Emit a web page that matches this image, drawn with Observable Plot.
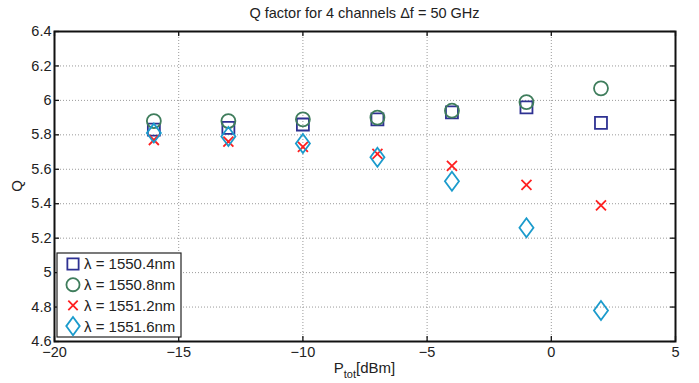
<!DOCTYPE html>
<html><head><meta charset="utf-8">
<script src="https://cdn.jsdelivr.net/npm/d3@7"></script>
<script src="https://cdn.jsdelivr.net/npm/@observablehq/plot@0.6"></script>
<style>body{margin:0;background:#fff} svg{display:block}</style>
</head><body><div id="chart"></div>
<script>
// ---- data ----
const titleText = "Q factor for 4 channels \u0394f = 50 GHz";
const xLabelMain = "P", xLabelSub = "tot", xLabelUnit = "[dBm]";
const yLabelText = "Q";
const power = [-16, -13, -10, -7, -4, -1, 2];
const seriesNames = ["\u03bb = 1550.4nm", "\u03bb = 1550.8nm", "\u03bb = 1551.2nm", "\u03bb = 1551.6nm"];
const q1550_4 = [5.83, 5.84, 5.86, 5.89, 5.93, 5.96, 5.87];
const q1550_8 = [5.88, 5.88, 5.89, 5.90, 5.94, 5.99, 6.07];
const q1551_2 = [5.77, 5.76, 5.73, 5.69, 5.62, 5.51, 5.39];
const q1551_6 = [5.81, 5.79, 5.75, 5.67, 5.53, 5.26, 4.78];
const xTicks = [-20, -15, -10, -5, 0, 5];
const yTicks = [4.6, 4.8, 5, 5.2, 5.4, 5.6, 5.8, 6, 6.2, 6.4];
const xDomain = [-20, 5];
const yDomain = [4.6, 6.4];

// ---- styles ----
const colors = ["#2e3192", "#3f7d5c", "#ff2020", "#1b9bcc"];
const rad = (s) => Math.sqrt(s / Math.PI);
const symSquare = {draw(c, s) { const r = rad(s); c.moveTo(-r, -r); c.lineTo(r, -r); c.lineTo(r, r); c.lineTo(-r, r); c.closePath(); }};
const symCircle = {draw(c, s) { const r = rad(s); c.moveTo(r, 0); c.arc(0, 0, r, 0, 2 * Math.PI); c.closePath(); }};
const symTimes = {draw(c, s) { const r = rad(s); c.moveTo(-r, -r); c.lineTo(r, r); c.moveTo(r, -r); c.lineTo(-r, r); }};
const symDiamond = {draw(c, s) { const r = rad(s); const w = r * 0.74; c.moveTo(0, -r); c.lineTo(w, 0); c.lineTo(0, r); c.lineTo(-w, 0); c.closePath(); }};
const symbols = [symSquare, symCircle, symTimes, symDiamond];
const radii = [6, 7, 5, 9.5];
const seriesValues = [q1550_4, q1550_8, q1551_2, q1551_6];

const W = 699, H = 383;
const mL = 54, mR = 24, mT = 31, mB = 42;
const innerW = W - mL - mR, innerH = H - mT - mB;
const font = "'Liberation Sans', Arial, Helvetica, sans-serif";
const tickLen = 5;

const dotMarks = seriesValues.map((vals, i) =>
  Plot.dot(power.map((p, j) => ({p, q: vals[j]})), {
    x: "p", y: "q", symbol: symbols[i], r: radii[i],
    stroke: colors[i], fill: "none", strokeWidth: 1.8
  })
);

const plot = Plot.plot({
  width: W, height: H,
  marginLeft: mL, marginRight: mR, marginTop: mT, marginBottom: mB,
  style: {fontFamily: font, fontSize: "14.5px", background: "#fff", color: "#222"},
  x: {domain: xDomain, label: null},
  y: {domain: yDomain, label: null},
  marks: [
    Plot.gridX(xTicks.slice(1, -1), {stroke: "#9a9a9a", strokeOpacity: 1, strokeDasharray: "1,2", strokeWidth: 1}),
    Plot.gridY(yTicks.slice(1, -1), {stroke: "#9a9a9a", strokeOpacity: 1, strokeDasharray: "1,2", strokeWidth: 1}),
    Plot.tickX(xTicks, {x: d => d, insetTop: innerH - tickLen, stroke: "#111", strokeWidth: 1.3}),
    Plot.tickX(xTicks, {x: d => d, insetBottom: innerH - tickLen, stroke: "#111", strokeWidth: 1.3}),
    Plot.tickY(yTicks, {y: d => d, insetRight: innerW - tickLen, stroke: "#111", strokeWidth: 1.3}),
    Plot.tickY(yTicks, {y: d => d, insetLeft: innerW - tickLen, stroke: "#111", strokeWidth: 1.3}),
    Plot.axisX(xTicks, {tickSize: 0, tickPadding: 5, fontSize: 14.5, label: null, fill: "#222"}),
    Plot.axisY(yTicks, {tickSize: 0, tickPadding: 3, fontSize: 14.5, label: null, fill: "#222", tickFormat: d => String(d)}),
    Plot.frame({stroke: "#111", strokeWidth: 2}),
    ...dotMarks
  ]
});

document.getElementById("chart").appendChild(plot);
const svg = d3.select(plot);

// title
svg.append("text").attr("x", mL + innerW / 2).attr("y", 18)
  .attr("text-anchor", "middle").attr("font-family", font).attr("font-size", 14.5).attr("fill", "#222")
  .text(titleText);

// x label with subscript
const xl = svg.append("text").attr("x", mL + innerW / 2).attr("y", H - 10)
  .attr("text-anchor", "middle").attr("font-family", font).attr("font-size", 15).attr("fill", "#222");
xl.append("tspan").text(xLabelMain);
xl.append("tspan").attr("font-size", 11).attr("dy", 5).text(xLabelSub);
xl.append("tspan").attr("dy", -5).text(xLabelUnit);

// y label
svg.append("text").attr("transform", `translate(22,${mT + innerH / 2}) rotate(-90)`)
  .attr("text-anchor", "middle").attr("font-family", font).attr("font-size", 15).attr("fill", "#222")
  .text(yLabelText);

// legend
const lgX = mL + 3, lgW = 124, lgH = 84, lgY = mT + innerH - 4 - lgH;
const lg = svg.append("g");
lg.append("rect").attr("x", lgX).attr("y", lgY).attr("width", lgW).attr("height", lgH)
  .attr("fill", "#fff").attr("stroke", "#222").attr("stroke-width", 1.2);
seriesNames.forEach((name, i) => {
  const cy = lgY + 11 + i * 20.7;
  lg.append("path").attr("transform", `translate(${lgX + 16},${cy})`)
    .attr("d", d3.symbol(symbols[i], Math.PI * radii[i] * radii[i] * (i === 3 ? 0.92 : 0.88))())
    .attr("fill", "none").attr("stroke", colors[i]).attr("stroke-width", 1.8);
  lg.append("text").attr("x", lgX + 27).attr("y", cy).attr("dy", "0.36em")
    .attr("text-anchor", "start")
    .attr("font-family", font).attr("font-size", 15).attr("fill", "#222").text(name);
});
</script>
</body></html>
